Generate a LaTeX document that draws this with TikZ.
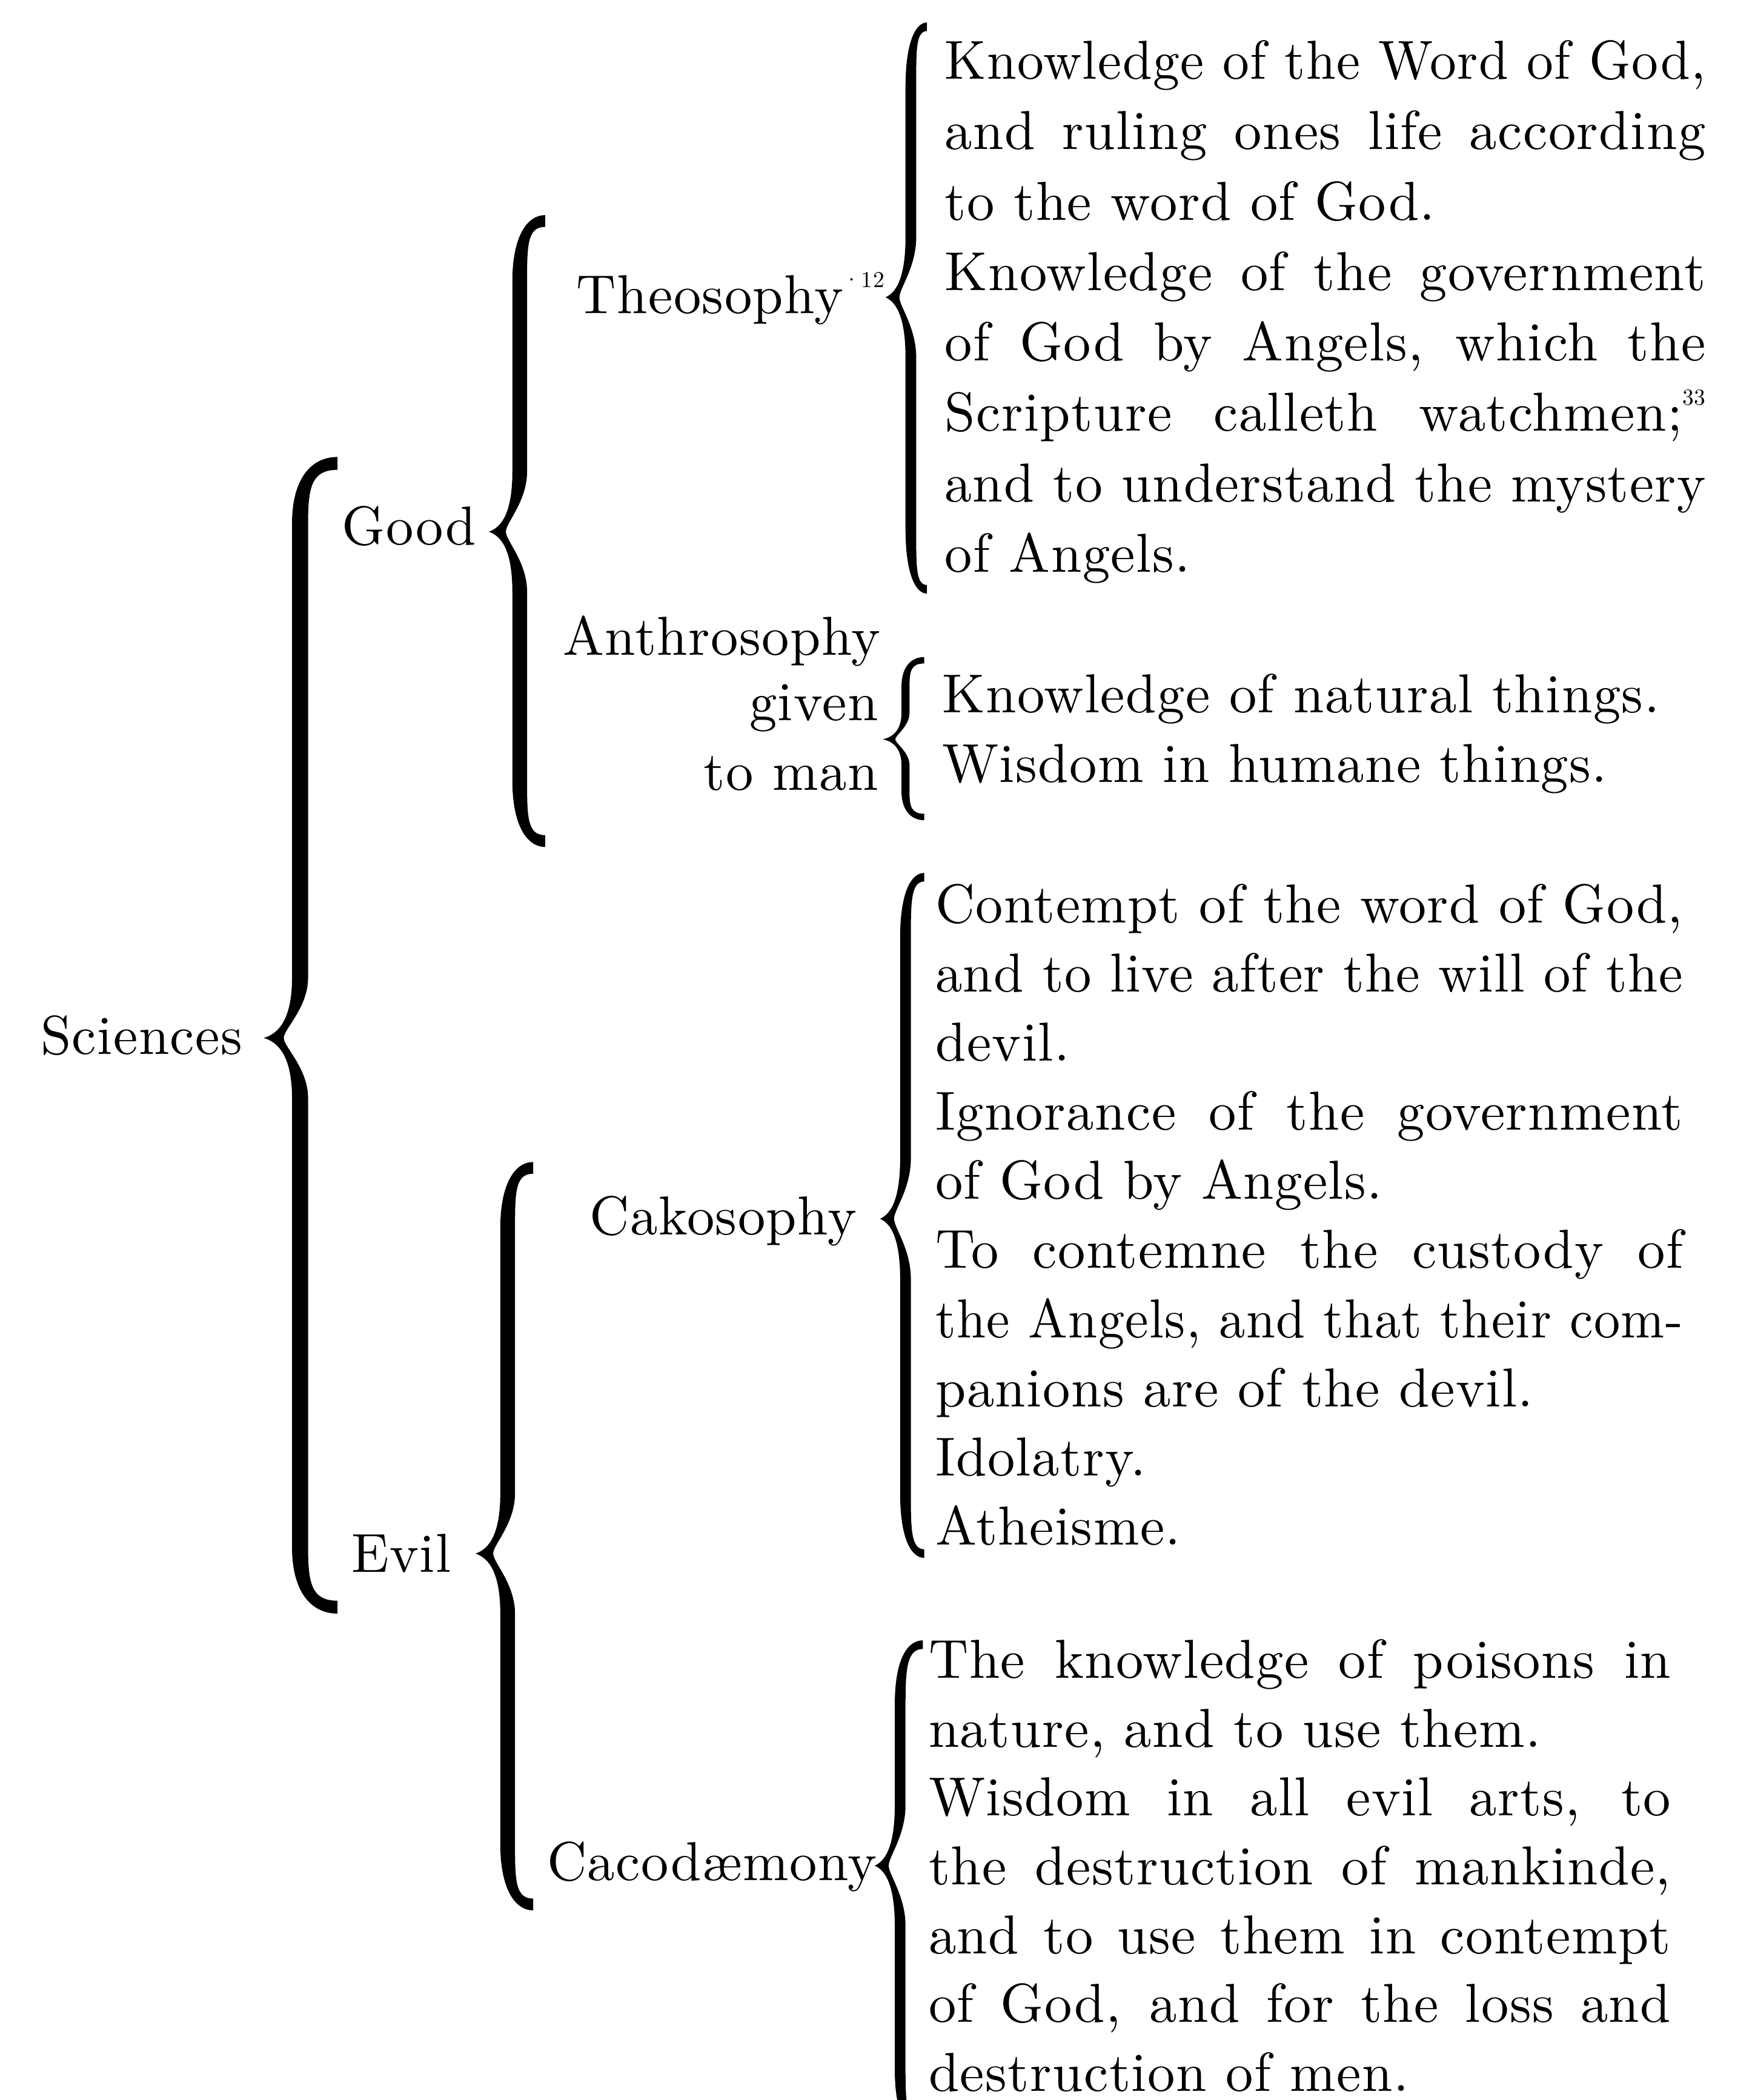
\documentclass[tikz,border=0pt]{standalone}
\usepackage{fontspec}
\setmainfont{lmroman10-regular}[Extension=.otf, LetterSpace=1.6]
\usepackage{graphicx}
\newcommand\labfont{\fontsize{20.5}{26}\selectfont}
\newlength\jlw
\newcommand\jl[1]{\settowidth{\jlw}{#1}\ifdim\jlw>\linewidth\resizebox{\linewidth}{\height}{#1}\else\makebox[\linewidth][s]{#1}\fi}
\newcommand\sups[1]{\raisebox{1.1ex}{\fontsize{8.5}{9}\selectfont #1}}
\newcommand\drawbrace[7]{%
\pgfmathsetmacro\brL{#1-#7/2}%
\pgfmathsetmacro\brR{#1+#7/2}%
\pgfmathsetmacro\brA{min(45,(#3-#2)/3)}%
\pgfmathsetmacro\brB{min(45,(#4-#3)/3)}%
\pgfmathsetmacro\brH{#7*0.4}%
\pgfmathsetmacro\brTI{#5+0.55*(#1-#5)}%
\pgfmathsetmacro\brTM{#5+0.45*(#1-#5)}%
\pgfmathsetmacro\brEC{#1+0.3*(#6-#1)}%
\fill[bracefill] (#6,#2-\brH) .. controls (\brEC,#2-\brH) and (\brL,#2+0.25*\brA) .. (\brL,#2+\brA)
 -- (\brL,#3-\brA) .. controls (\brL,#3-0.35*\brA) and (\brTM,#3-0.08*\brA) .. (#5,#3)
 .. controls (\brTM,#3+0.08*\brB) and (\brL,#3+0.35*\brB) .. (\brL,#3+\brB)
 -- (\brL,#4-\brB) .. controls (\brL,#4-0.25*\brB) and (\brEC,#4+\brH) .. (#6,#4+\brH)
 -- (#6,#4-\brH) .. controls (\brEC,#4-\brH) and (\brR,#4-0.4*\brB) .. (\brR,#4-\brB)
 -- (\brR,#3+\brB) .. controls (\brR,#3+0.5*\brB) and (\brTI,#3+0.15*\brB) .. (\brTI,#3)
 .. controls (\brTI,#3-0.15*\brA) and (\brR,#3-0.5*\brA) .. (\brR,#3-\brA)
 -- (\brR,#2+\brA) .. controls (\brR,#2+0.4*\brA) and (\brEC,#2+\brH) .. (#6,#2+\brH) -- cycle;
}
\tikzset{
  bracefill/.style={fill=black},
  lab/.style={anchor=base west, inner sep=0pt, font=\labfont},
  labr/.style={anchor=base east, inner sep=0pt, font=\labfont},
  blk/.style={anchor=base west, inner sep=0pt}
}
\begin{document}
\begin{tikzpicture}[x=0.5pt,y=-0.5pt]
\useasboundingbox (0,0) rectangle (1310,1568);
\clip (0,0) rectangle (1310,1568);
\fill[white] (0,0) rectangle (1310,1568);

% labels
\node[lab] (sci) at (30,787) {Sciences};
\node[lab] (good) at (255,407) {Good};
\node[lab] (evil) at (262,1174) {Evil};
\node[lab] (theo) at (430,234) {Theosophy\sups{·12}};
\node[lab] (anth) at (420,489) {Anthrosophy};
\node[labr] (given) at (656,538) {given};
\node[labr] (toman) at (656,590) {to man};
\node[lab] (cako) at (440,922) {Cakosophy};
\node[lab] (caco) at (408,1404) {Cacodæmony};

% text blocks
\node[blk] (theotext) at (705,59) {\parbox[t]{284pt}{\fontsize{20.5}{26.3}\selectfont
\jl{Knowledge of the Word of God,}\\
\jl{and ruling ones life according}\\
to the word of God.\\
\jl{Knowledge of the government}\\
\jl{of God by Angels, which the}\\
\jl{Scripture calleth watchmen;\sups{33}}\\
\jl{and to understand the mystery}\\
of Angels.}};

\node[blk] (anthtext) at (703,532) {\parbox[t]{300pt}{\fontsize{20.5}{26}\selectfont
Knowledge of natural things.\\
Wisdom in humane things.}};

\node[blk] (cakotext) at (698,689) {\parbox[t]{279pt}{\fontsize{20.5}{25.8}\selectfont
\jl{Contempt of the word of God,}\\
\jl{and to live after the will of the}\\
devil.\\
\jl{Ignorance of the government}\\
of God by Angels.\\
\jl{To contemne the custody of}\\
\jl{the Angels, and that their com-}\\
panions are of the devil.\\
Idolatry.\\
Atheisme.}};

\node[blk] (cacotext) at (693,1253) {\parbox[t]{277pt}{\fontsize{20.5}{25.7}\selectfont
\jl{The knowledge of poisons in}\\
nature, and to use them.\\
\jl{Wisdom in all evil arts, to}\\
\jl{the destruction of mankinde,}\\
\jl{and to use them in contempt}\\
\jl{of God, and for the loss and}\\
destruction of men.}};

% braces: spine x, top y, tip y, bottom y, tip x, end x, width
\drawbrace{224}{346}{775}{1200}{197}{252}{12}
\drawbrace{388}{165}{397}{628}{365}{407}{11}
\drawbrace{379}{872}{1160}{1422}{355}{398}{11}
\drawbrace{680}{20}{222}{440}{661}{692}{8}
\drawbrace{676}{493}{552}{610}{659}{690}{6}
\drawbrace{676}{655}{910}{1160}{657}{690}{8}
\drawbrace{672}{1228}{1393}{1590}{653}{689}{8}
\end{tikzpicture}
\end{document}
